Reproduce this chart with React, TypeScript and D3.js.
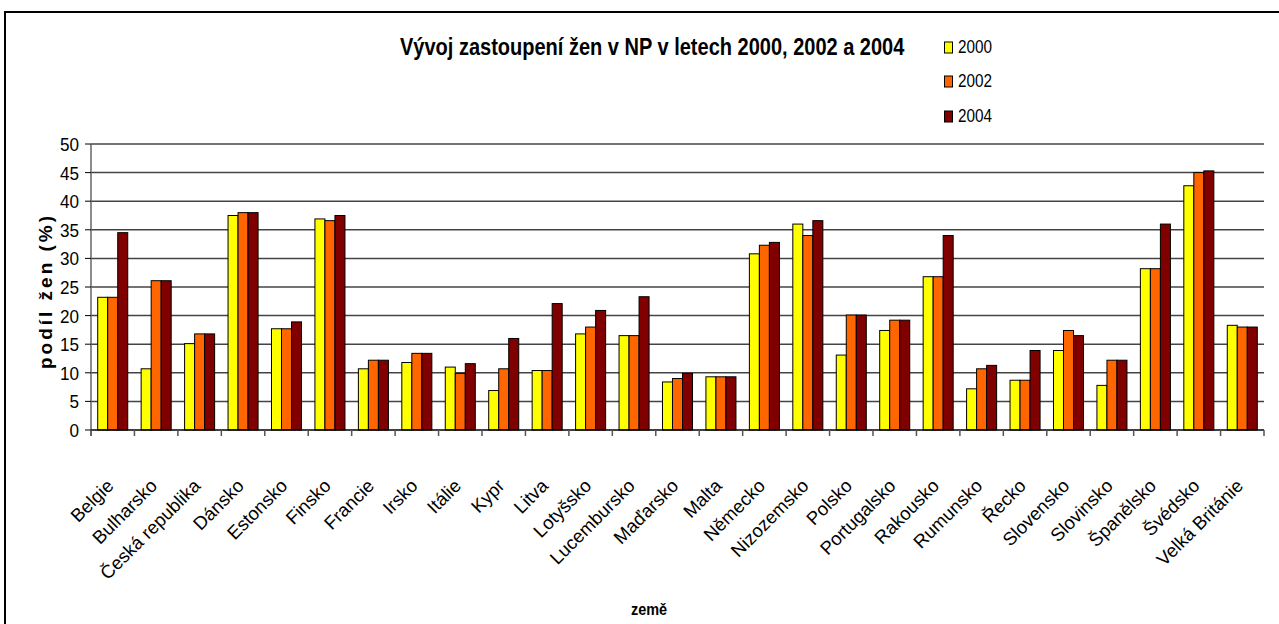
import * as d3 from 'd3';

const COUNTRIES = [
  'Belgie', 'Bulharsko', 'Česká republika', 'Dánsko', 'Estonsko', 'Finsko', 'Francie',
  'Irsko', 'Itálie', 'Kypr', 'Litva', 'Lotyšsko', 'Lucembursko', 'Maďarsko', 'Malta',
  'Německo', 'Nizozemsko', 'Polsko', 'Portugalsko', 'Rakousko', 'Rumunsko', 'Řecko',
  'Slovensko', 'Slovinsko', 'Španělsko', 'Švédsko', 'Velká Británie',
];

const YEARS = ['2000', '2002', '2004'];

const V2000 = [23.2, 10.7, 15.1, 37.5, 17.7, 36.9, 10.7, 11.8, 11.0, 6.9, 10.4, 16.8, 16.5, 8.4, 9.3, 30.8, 36.0, 13.1, 17.4, 26.8, 7.2, 8.7, 13.9, 7.8, 28.2, 42.7, 18.3];
const V2002 = [23.2, 26.1, 16.8, 38.0, 17.7, 36.6, 12.2, 13.4, 9.9, 10.7, 10.4, 18.0, 16.5, 9.0, 9.3, 32.3, 34.0, 20.1, 19.2, 26.8, 10.7, 8.7, 17.4, 12.2, 28.2, 45.0, 18.0];
const V2004 = [34.5, 26.1, 16.8, 38.0, 18.9, 37.5, 12.2, 13.4, 11.6, 16.0, 22.1, 20.9, 23.3, 9.9, 9.3, 32.8, 36.6, 20.1, 19.2, 34.0, 11.3, 13.9, 16.5, 12.2, 36.0, 45.3, 18.0];

const Y_TICKS = [0, 5, 10, 15, 20, 25, 30, 35, 40, 45, 50];
const COLORS = ['#FFFF00', '#FF6600', '#800000'];

const W = 1279;
const H = 624;
const FONT = '"Liberation Sans", Arial, sans-serif';

export default function App() {
  const left = 91;
  const right = 1264;
  const top = 144;
  const bottom = 430;

  const x = d3.scaleBand().domain(COUNTRIES).range([left, right]).padding(0);
  const x1 = d3.scaleBand().domain(YEARS).range([0, x.bandwidth()]).paddingInner(0).paddingOuter(0.67);
  const y = d3.scaleLinear().domain([0, 50]).range([bottom, top]);

  const series = [V2000, V2002, V2004];
  const boundaries = d3.range(COUNTRIES.length + 1).map((i) => left + i * x.step());

  return (
    <svg width={W} height={H} style={{ position: 'absolute', left: 0, top: 0 }} fontFamily={FONT}>
      <rect x={0} y={0} width={W} height={H} fill="#fff" />
      {/* outer frame */}
      <rect x={5} y={12} width={W + 10} height={H + 10} fill="none" stroke="#000" strokeWidth={2} />

      {/* title, slightly condensed like the original */}
      <text transform="translate(400,55) scale(0.87,1)" fontSize={23} fontWeight="bold">
        Vývoj zastoupení žen v NP v letech 2000, 2002 a 2004
      </text>

      {/* legend */}
      {YEARS.map((yr, i) => {
        const base = [53, 87, 122][i];
        return (
          <g key={yr}>
            <rect x={944.5} y={base - 11} width={8} height={11} fill={COLORS[i]} stroke="#000" strokeWidth={1} />
            <text transform={`translate(958,${base}) scale(0.85,1)`} fontSize={18}>{yr}</text>
          </g>
        );
      })}

      {/* gridlines */}
      {Y_TICKS.filter((t) => t > 0).map((t) => (
        <line key={t} x1={left} x2={right} y1={y(t)} y2={y(t)} stroke="#444" strokeWidth={1.5} />
      ))}

      {/* bars */}
      {COUNTRIES.map((c, ci) => (
        <g key={c} transform={`translate(${x(c)},0)`}>
          {YEARS.map((yr, si) => (
            <rect
              key={yr}
              x={x1(yr)}
              y={y(series[si][ci])}
              width={x1.bandwidth()}
              height={bottom - y(series[si][ci])}
              fill={COLORS[si]}
              stroke="#000"
              strokeWidth={1}
            />
          ))}
        </g>
      ))}

      {/* y axis */}
      <line x1={left} x2={left} y1={top} y2={bottom + 6} stroke="#666" strokeWidth={1.5} />
      {Y_TICKS.map((t) => (
        <g key={t}>
          <line x1={left - 6} x2={left} y1={y(t)} y2={y(t)} stroke="#000" strokeWidth={1} />
          <text transform={`translate(79,${y(t) + 7}) scale(0.9,1)`} fontSize={19} textAnchor="end">
            {t}
          </text>
        </g>
      ))}

      {/* x axis */}
      <line x1={left} x2={right} y1={bottom} y2={bottom} stroke="#000" strokeWidth={1.5} />
      {boundaries.map((b, i) => (
        <line key={i} x1={b} x2={b} y1={bottom} y2={bottom + 6} stroke="#555" strokeWidth={1.5} />
      ))}
      {COUNTRIES.map((c) => {
        const cx = (x(c) ?? 0) + x.bandwidth() / 2 + 2;
        return (
          <text key={c} transform={`translate(${cx},487) rotate(-45)`} fontSize={18.5} textAnchor="end">
            {c}
          </text>
        );
      })}

      {/* axis titles */}
      <text
        transform="translate(52,291) rotate(-90)"
        fontSize={19}
        fontWeight="bold"
        textAnchor="middle"
        letterSpacing={3}
      >
        podíl žen (%)
      </text>
      <text transform="translate(649,615) scale(0.85,1)" fontSize={17} fontWeight="bold" textAnchor="middle">
        země
      </text>
    </svg>
  );
}
